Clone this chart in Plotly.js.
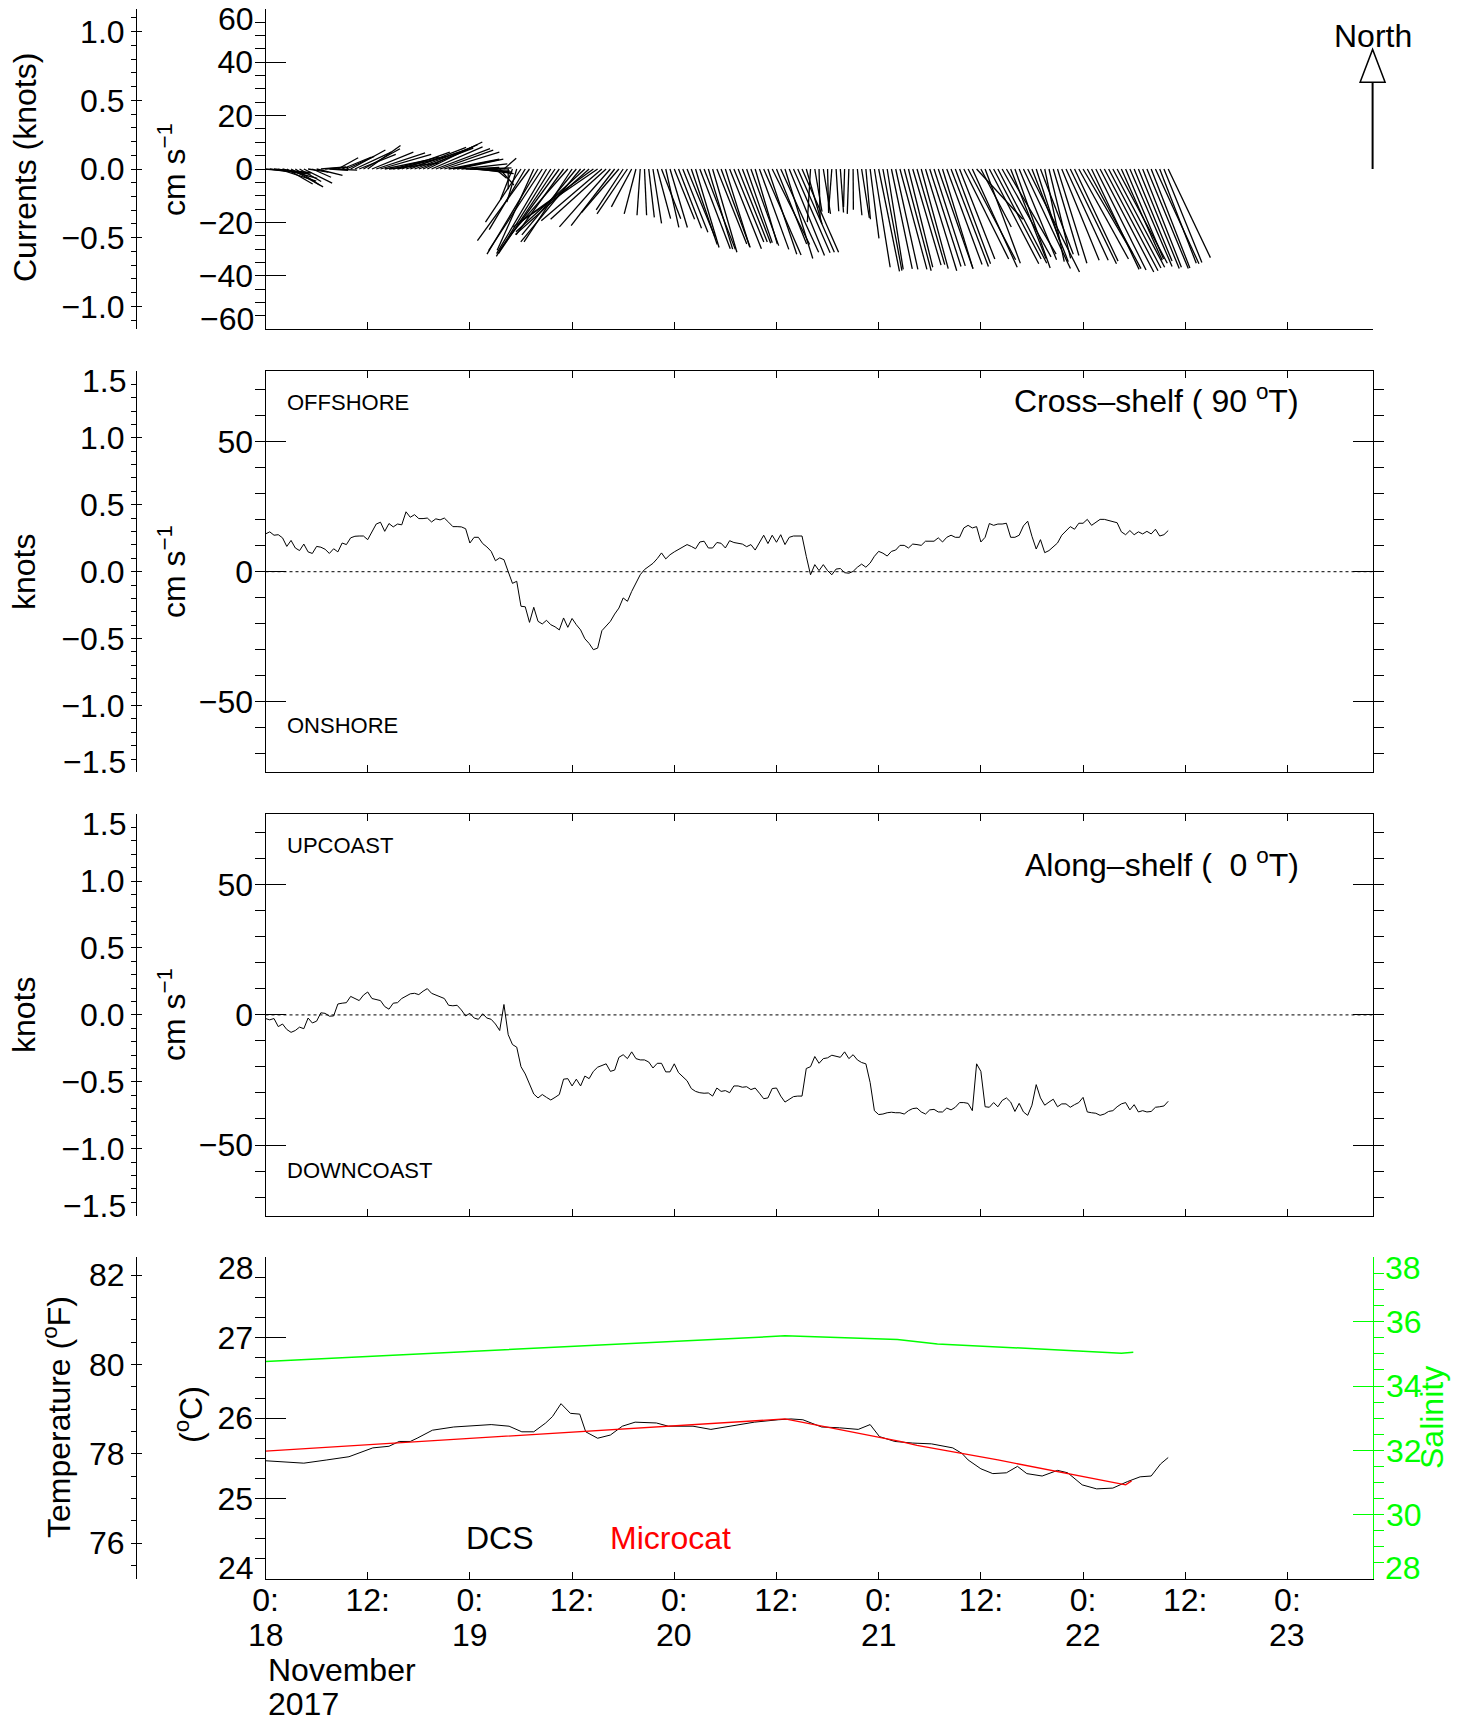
<!DOCTYPE html>
<html><head><meta charset="utf-8">
<script src="https://cdn.plot.ly/plotly-3.0.1.min.js"></script>
<style>html,body{margin:0;padding:0;background:#fff}</style>
</head><body><div id="chart" style="width:1467px;height:1721px"></div>
<script>
// ---------------- DATA ----------------
// current meter samples, every 0.5 h starting 2017-11-18 00:00
const sampleStepHours = 0.5;
// cross-shelf (90 deg T) component, cm/s
const crossShelf = [
14.5,15.3,14,14.2,13,9.7,12,9.1,8.1,10.6,
7.6,7,9.7,9.4,8.6,7,8.8,7.6,11,10.4,
13,13.6,13.7,13.7,12.3,15.5,18.3,19,15.5,18.5,
17.2,18.3,18,23,20.9,21.9,20.4,20.4,20.6,19.1,
20.3,19.9,20.6,19,17.3,17.3,17.2,16.5,11,13.2,
13.2,10.8,9.5,7.8,4.2,5.3,4.6,0,-4.5,-3.7,
-13.3,-13.5,-19.5,-13.7,-19.1,-20.1,-18.7,-20.4,-21.2,-22.4,
-17.8,-21.4,-18,-20.4,-22.4,-25.8,-27.6,-30,-29.4,-22.7,
-20.8,-19.1,-16.3,-14,-10.1,-11.4,-7.6,-4.4,-1.2,0.8,
2.1,3.2,5,7.2,4.9,6.5,7.6,8.6,9.4,10.4,
9.7,8.8,11.4,11.7,9.1,9.1,11.2,10.9,9.1,11.9,
11.2,10.9,10.6,9.6,10.4,8.3,11,14,10.8,14,
11.3,14.2,10.4,13.2,13.7,13.7,13.7,5.9,-1.2,2.7,
0.4,2.7,0.4,-1.2,1,1.2,-0.4,-0.6,0.1,1.7,
2.9,1.7,3.3,5.9,7.8,7.1,6,7.8,8.3,10.1,
10.1,9.1,10.6,10.4,10.1,11.7,11.7,11.7,13,11.4,
13.2,14,13.2,13.2,16.8,17.8,16.8,17.3,11.4,13.2,
18.5,17.8,18.3,18.3,18.6,13.2,13.2,14,17.6,19.4,
13.6,8.7,12.3,7.3,8.1,9.6,11,14,15.8,17.3,
16.3,18.6,18.6,20.1,17.8,18.8,20.1,20.1,19.6,19.4,
18.8,15.3,14.2,15.8,14.2,15.3,14.5,15.5,14.5,
16.3,13.7,14.2,15.8];
// along-shelf (0 deg T) component, cm/s
const alongShelf = [
-1.4,-1.9,-1.4,-4.5,-3.5,-5.6,-6.7,-6,-4.7,-5.3,
-1.2,-3.1,-2.4,0.8,0.6,-0.5,-0.4,4.2,4.5,4.7,
7.1,6.3,5.5,7.6,8.8,6.3,6,5.5,3.2,
2.2,4.5,4.7,6.3,7.3,8.1,8.3,7.8,9.1,10.1,
8.3,7.6,7.1,6.3,3.7,3.5,3.7,1.9,-0.4,
0.6,-1.2,-1.7,0.4,-1.2,-1.7,-3.5,-6,4,-7.6,
-11.4,-12.4,-19.9,-22.7,-26.8,-30.4,-31.9,-30.6,-31.7,
-32.7,-31.7,-30.6,-24.7,-24.5,-27.3,-24.7,-27.3,-23.5,-24.5,
-21.7,-20.1,-19.4,-18.8,-21.7,-21.2,-16.3,-15.3,-16.8,-14.2,
-16.8,-17.3,-17.3,-18.1,-20.4,-18.6,-18.6,-21.9,-21.9,
-18.8,-22.2,-23.7,-25.3,-28.3,-29.4,-29.9,-30.1,-30,
-31.2,-28.1,-29.4,-29.1,-29.9,-27.3,-27.3,-27.8,-27.6,
-28.7,-28.1,-30.1,-32.2,-31.9,-28.3,-28.1,-31.2,-33.5,-32.4,
-31.4,-31.2,-31.2,-20.6,-19.9,-16,-18.6,-16.8,-16.5,-15.5,
-15.8,-16.3,-14.2,-16.8,-15.3,-17.3,-18.3,-18.8,-26,
-36.8,-38.3,-38.1,-37.6,-37.4,-37.6,-37.6,-38.1,-36.8,
-36,-35.8,-37.3,-38.1,-36.5,-36.3,-37.3,-37.3,-35.8,-36.5,
-35.5,-33.7,-33.7,-34,-36.8,-18.8,-21.7,-35.3,-35.5,-33.7,
-35.3,-32.9,-31.9,-33.5,-37.1,-34,-37.3,-38.6,-34.7,-26.8,
-31.9,-34.7,-33.5,-32.4,-35.3,-34.2,-34.2,-35.5,-34.5,-33.7,
-31.7,-37.3,-37.6,-37.8,-38.6,-38.1,-37.1,-36.8,-35.3,
-34.2,-33.7,-36.5,-34.5,-37.3,-36.8,-37.3,-37.1,-35.5,
-35.3,-35,-33.2];
// DCS temperature (deg C)
const dcsHours = [0,2,4.5,7.2,9.8,12.6,14.5,15.7,17,17.8,19.6,22.1,24.4,26.5,28.6,30.1,31.5,32.9,33.7,34.7,35.8,36.9,37.6,39,40.5,41.9,43.4,45.9,47.3,50.2,52.3,54.5,57.4,60.2,61.7,63.1,65.3,67.4,69.6,71,72.1,73.9,76,78.2,80.7,81.8,82.5,84,85.4,87,88.3,89.4,91.2,93,94.2,95.9,97.6,99.5,101.2,102.7,104,105.1,106];
const dcsTemp  = [25.47,25.46,25.44,25.48,25.52,25.63,25.65,25.71,25.71,25.75,25.85,25.89,25.91,25.92,25.9,25.83,25.83,25.94,26.02,26.18,26.06,26.05,25.83,25.75,25.79,25.9,25.95,25.94,25.9,25.9,25.86,25.9,25.95,25.98,25.99,25.98,25.89,25.88,25.86,25.92,25.77,25.71,25.69,25.68,25.63,25.56,25.48,25.37,25.31,25.32,25.4,25.31,25.28,25.35,25.32,25.17,25.12,25.13,25.21,25.27,25.28,25.43,25.51];
// Microcat temperature (deg C)
const microcatHours = [0,61,74.5,76.5,86,101,101.7];
const microcatTemp  = [25.59,25.99,25.71,25.66,25.48,25.17,25.22];
// Microcat salinity
const salinityHours = [0,61,74.2,78.9,100.5,101.9];
const salinity      = [34.76,35.56,35.45,35.31,35.02,35.05];
// time axis ticks (hours from 2017-11-18 00:00)
const xTickVals = [0,12,24,36,48,60,72,84,96,108,120];
const xTickText = ['0:','12:','0:','12:','0:','12:','0:','12:','0:','12:','0:'];
const dayHours = [0,24,48,72,96,120];
const dayLabels = ['18','19','20','21','22','23'];

// ---------------- LAYOUT GEOMETRY ----------------
const W = 1467, H = 1721;
const FONT = 'Liberation Sans, Arial, Helvetica, sans-serif';
const KNOT = 51.444;          // cm/s per knot
const XMAX = 130;             // hours shown
const XL = 265.5, XR = 1372.6; // plot left/right px
const PAN = [[8.8,329.2],[370.9,772.4],[814.1,1215.7],[1257.4,1578.9]];
const KNOTX = 136;            // secondary left axis px
const px = v => v / W, py = v => 1 - v / H;
const XD = [px(XL), px(XR)];
const dom = i => [py(PAN[i][1]), py(PAN[i][0])];
const P1R = [-60, 60], P2R = [-1.5*KNOT, 1.5*KNOT];
const hx = h => XD[0] + h / XMAX * (XD[1] - XD[0]);           // hours -> paper
const yPaper = (i, v, r) => dom(i)[0] + (v - r[0]) / (r[1] - r[0]) * (dom(i)[1] - dom(i)[0]);

const t = crossShelf.map((_, i) => i * sampleStepHours);

// stick plot: horizontal length uses the same pixel scale as vertical
const pxPerCm = (PAN[0][1] - PAN[0][0]) / (P1R[1] - P1R[0]);
const pxPerHour = (XR - XL) / XMAX;
const kx = pxPerCm / pxPerHour;
const sx = [], sy = [];
for (let i = 0; i < t.length; i++) {
  sx.push(t[i], t[i] + crossShelf[i] * kx, null);
  sy.push(0, alongShelf[i], null);
}

const blk = '#000';
const tf = {family: FONT, size: 32, color: blk};
const base = {showline: true, linecolor: blk, linewidth: 1, ticks: 'inside', tickcolor: blk,
  zeroline: false, showgrid: false, tickfont: tf, fixedrange: true};

function xa(anchor, labels, mirror) {
  return Object.assign({}, base, {anchor: anchor, domain: XD, range: [0, XMAX], tickmode: 'array',
    tickvals: xTickVals, ticktext: xTickText, showticklabels: labels, ticklen: 7,
    ticklabelstandoff: -7, mirror: mirror ? 'ticks' : false});
}
function yMain(i, range, vals, dt, mirror) {
  return Object.assign({}, base, {anchor: i === 0 ? 'x' : 'x' + (i + 1), domain: dom(i), range: range,
    tickmode: 'array', tickvals: vals, ticklen: 20, ticklabelstandoff: 5, mirror: mirror ? 'ticks' : false,
    minor: {tickmode: 'linear', tick0: 0, dtick: dt, ticklen: 10, tickcolor: blk, showgrid: false}});
}
function ySec(over, range, vals, fmt, dt) {
  return Object.assign({}, base, {overlaying: over, anchor: 'free', position: px(KNOTX), side: 'left',
    range: range, tickmode: 'array', tickvals: vals, tickformat: fmt, ticklen: 5, ticklabelstandoff: 5,
    minor: {tickmode: 'linear', tick0: 0, dtick: dt, ticklen: 5, tickcolor: blk, showgrid: false}});
}

const layout = {
  width: W, height: H, margin: {l: 0, r: 0, t: 0, b: 0}, showlegend: false,
  paper_bgcolor: '#fff', plot_bgcolor: 'rgba(0,0,0,0)', font: tf,
  xaxis: xa('y', false, false),
  xaxis2: xa('y2', false, true),
  xaxis3: xa('y3', false, true),
  xaxis4: xa('y4', true, false),
  yaxis: yMain(0, P1R, [-40, -20, 0, 20, 40], 5, false),
  yaxis2: yMain(1, P2R, [-50, 0, 50], 10, true),
  yaxis3: yMain(2, P2R, [-50, 0, 50], 10, true),
  yaxis4: yMain(3, [24, 28], [25, 26, 27], 0.25, false),
  yaxis5: ySec('y', [P1R[0] / KNOT, P1R[1] / KNOT], [-1, -0.5, 0, 0.5, 1], '.1f', 0.1),
  yaxis6: ySec('y2', [-1.5, 1.5], [-1, -0.5, 0, 0.5, 1], '.1f', 0.1),
  yaxis7: ySec('y3', [-1.5, 1.5], [-1, -0.5, 0, 0.5, 1], '.1f', 0.1),
  yaxis8: ySec('y4', [24 * 1.8 + 32, 28 * 1.8 + 32], [76, 78, 80, 82], 'd', 0.5),
  yaxis9: Object.assign({}, base, {overlaying: 'y4', anchor: 'x4', side: 'right', range: [28, 38],
    tickmode: 'array', tickvals: [30, 32, 34, 36], linecolor: '#00ff00', tickcolor: '#00ff00',
    tickfont: {family: FONT, size: 32, color: '#00ff00'}, ticklen: 20, ticklabelstandoff: 6,
    minor: {tickmode: 'linear', tick0: 0, dtick: 0.5, ticklen: 10, tickcolor: '#00ff00', showgrid: false}}),
  annotations: [], shapes: []
};

const A = layout.annotations;
function txt(text, x, y, opt) {
  A.push(Object.assign({text: text, xref: 'paper', yref: 'paper', x: x, y: y, showarrow: false,
    xanchor: 'center', yanchor: 'middle', font: tf}, opt || {}));
}
// end labels drawn slightly inward (as in the original)
txt('60', XD[0], dom(0)[1], {xanchor: 'right', xshift: -10, yshift: -10});
txt('\u221260', XD[0], dom(0)[0], {xanchor: 'right', xshift: -10, yshift: 10});
for (const i of [1, 2]) {
  txt('1.5', px(KNOTX), dom(i)[1], {xanchor: 'right', xshift: -8, yshift: -10});
  txt('\u22121.5', px(KNOTX), dom(i)[0], {xanchor: 'right', xshift: -8, yshift: 10});
}
txt('28', XD[0], dom(3)[1], {xanchor: 'right', xshift: -10, yshift: -11});
txt('24', XD[0], dom(3)[0], {xanchor: 'right', xshift: -10, yshift: 11});
const G = {family: FONT, size: 32, color: '#00ff00'};
txt('38', XD[1], dom(3)[1], {xanchor: 'left', xshift: 10, yshift: -11, font: G});
txt('28', XD[1], dom(3)[0], {xanchor: 'left', xshift: 10, yshift: 11, font: G});
// day numbers under the hour labels
dayHours.forEach((h, i) => txt(dayLabels[i], hx(h), py(1635)));

// axis titles
txt('Currents (knots)', px(25), py(168), {textangle: -90});
txt('cm s<sup>\u22121</sup>', px(172), py(170), {textangle: -90});
txt('knots', px(24), py(572), {textangle: -90});
txt('cm s<sup>\u22121</sup>', px(172), py(572), {textangle: -90});
txt('knots', px(24), py(1015), {textangle: -90});
txt('cm s<sup>\u22121</sup>', px(172), py(1015), {textangle: -90});
txt('Temperature (<sup>o</sup>F)', px(57), py(1417), {textangle: -90});
txt('(<sup>o</sup>C)', px(189), py(1415), {textangle: -90});
txt('Salinity', px(1432), py(1418), {textangle: -90, font: G});

const SM = {family: FONT, size: 22, color: blk};
txt('OFFSHORE', px(285), py(402), {xanchor: 'left', font: SM});
txt('ONSHORE', px(285), py(725), {xanchor: 'left', font: SM});
txt('UPCOAST', px(285), py(845), {xanchor: 'left', font: SM});
txt('DOWNCOAST', px(285), py(1170), {xanchor: 'left', font: SM});
txt('Cross\u2013shelf ( 90 <sup>o</sup>T)', px(1301), py(399), {xanchor: 'right'});
txt('Along\u2013shelf (\u00a0\u00a00 <sup>o</sup>T)', px(1301), py(863), {xanchor: 'right'});
txt('DCS', px(500), py(1538));
txt('Microcat', px(670), py(1538), {font: {family: FONT, size: 32, color: '#ff0000'}});
txt('November', XD[0], py(1670), {xanchor: 'left'});
txt('2017', XD[0], py(1704), {xanchor: 'left'});
txt('North', XD[1], py(36));

// North arrow (a 45 cm/s northward reference vector at the right edge)
const arrowBase = 32.5, arrowTip = 44.8, halfW = 12.5 / W;
layout.shapes.push({type: 'line', xref: 'paper', yref: 'paper', x0: XD[1], x1: XD[1],
  y0: yPaper(0, 0, P1R), y1: yPaper(0, arrowBase, P1R), line: {color: blk, width: 2}});
layout.shapes.push({type: 'path', xref: 'paper', yref: 'paper', fillcolor: '#fff',
  line: {color: blk, width: 1.5},
  path: `M ${XD[1] - halfW} ${yPaper(0, arrowBase, P1R)} L ${XD[1] + halfW} ${yPaper(0, arrowBase, P1R)} L ${XD[1]} ${yPaper(0, arrowTip, P1R)} Z`});

const line = (c, w, d) => ({color: c, width: w, dash: d || 'solid'});
const traces = [
  {x: sx, y: sy, xaxis: 'x', yaxis: 'y', mode: 'lines', line: line(blk, 1.3), hoverinfo: 'skip'},
  {x: [], y: [], xaxis: 'x', yaxis: 'y5', mode: 'lines', hoverinfo: 'skip'},
  {x: [0, XMAX], y: [0, 0], xaxis: 'x2', yaxis: 'y2', mode: 'lines', line: line('#333', 1.2, 'dot')},
  {x: t, y: crossShelf, xaxis: 'x2', yaxis: 'y2', mode: 'lines', line: line(blk, 1)},
  {x: [], y: [], xaxis: 'x2', yaxis: 'y6', mode: 'lines', hoverinfo: 'skip'},
  {x: [0, XMAX], y: [0, 0], xaxis: 'x3', yaxis: 'y3', mode: 'lines', line: line('#333', 1.2, 'dot')},
  {x: t, y: alongShelf, xaxis: 'x3', yaxis: 'y3', mode: 'lines', line: line(blk, 1)},
  {x: [], y: [], xaxis: 'x3', yaxis: 'y7', mode: 'lines', hoverinfo: 'skip'},
  {x: [], y: [], xaxis: 'x4', yaxis: 'y8', mode: 'lines', hoverinfo: 'skip'},
  {x: salinityHours, y: salinity, xaxis: 'x4', yaxis: 'y9', mode: 'lines', line: line('#00ff00', 1.5)},
  {x: dcsHours, y: dcsTemp, xaxis: 'x4', yaxis: 'y4', mode: 'lines', line: line(blk, 1)},
  {x: microcatHours, y: microcatTemp, xaxis: 'x4', yaxis: 'y4', mode: 'lines', line: line('#ff0000', 1.3)}
];
Plotly.newPlot('chart', traces, layout, {staticPlot: true, displayModeBar: false});
</script>
</body></html>
